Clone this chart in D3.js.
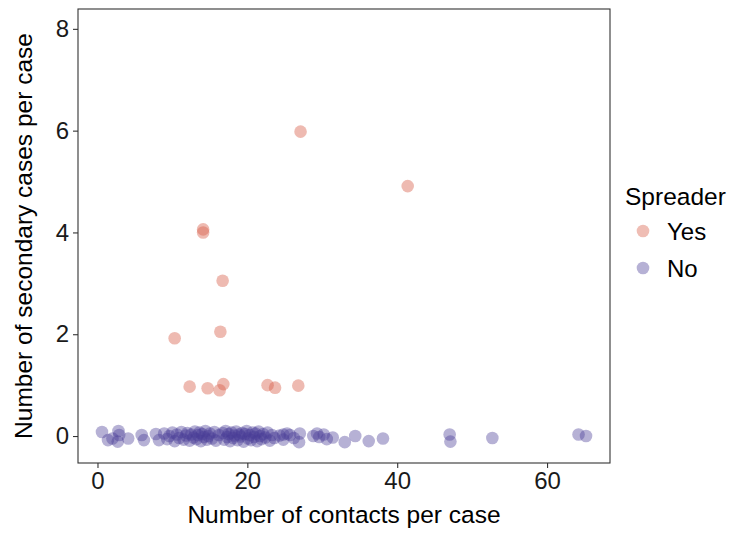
<!DOCTYPE html>
<html>
<head>
<meta charset="utf-8">
<script src="https://cdn.jsdelivr.net/npm/d3@7"></script>
<style>
  body { margin: 0; background: #fff; }
  svg { font-family: "Liberation Sans", Arial, sans-serif; }
</style>
</head>
<body>
<svg class="scatter"></svg>
<script>
// spreaders (Yes)
var yesContacts = [27.1, 41.4, 14.1, 14.1, 16.7, 16.4, 10.3, 12.3, 14.7, 16.8, 16.3, 22.7, 23.7, 26.8];
var yesSecondary = [5.98, 4.91, 4.06, 4.0, 3.05, 2.05, 1.92, 0.97, 0.94, 1.02, 0.9, 1.0, 0.95, 0.99];

// non spreaders (No), jittered round zero
var noContacts = [0.6, 1.4, 2.0, 2.7, 2.8, 2.9, 4.1, 5.9, 6.2, 7.8, 8.2,
  8.9, 9.3, 9.6, 10.0, 10.3, 10.6, 10.9, 11.2, 11.5, 11.8, 12.0, 12.3, 12.5, 12.8,
  13.0, 13.2, 13.4, 13.6, 13.8, 14.0, 14.2, 14.4, 14.6, 14.8, 15.0, 15.3, 15.6, 15.8,
  16.2, 16.7, 16.9, 17.1, 17.3, 17.5, 17.7, 17.9, 18.1, 18.3, 18.5, 18.7, 18.9, 19.1,
  19.3, 19.5, 19.7, 19.9, 20.1, 20.3, 20.5, 20.7, 20.9, 21.1, 21.3, 21.5, 21.7, 21.9,
  22.1, 22.4, 22.7, 23.0, 23.3, 23.6,
  24.3, 24.8, 24.8, 25.3, 25.7, 26.2, 27.0, 26.9, 28.8, 29.3, 29.6, 30.2, 30.6, 31.4,
  33.0, 34.4, 36.2, 38.1, 47.0, 47.1, 52.7, 64.2, 65.2];
var noSecondary = [0.08, -0.08, -0.05, -0.11, 0.10, 0.02, -0.05, 0.02, -0.08, 0.04, -0.08,
  0.05, -0.06, 0.0, 0.07, -0.10, 0.03, -0.04, 0.08, -0.07, 0.01, 0.06, -0.09, 0.03, -0.03,
  0.09, -0.06, 0.02, 0.07, -0.10, 0.04, -0.02, 0.10, -0.07, 0.0, 0.05, -0.05, 0.08, -0.09,
  0.02, 0.06, -0.07, 0.10, -0.02, 0.04, -0.10, 0.07, -0.04, 0.01, 0.09, -0.08, 0.03, -0.01,
  0.06, -0.11, 0.04, 0.10, -0.05, 0.02, -0.08, 0.07, -0.02, 0.05, -0.10, 0.09, 0.0, -0.06,
  0.04, -0.03, 0.07, -0.09, 0.02, -0.04,
  0.01, 0.03, -0.07, 0.05, 0.02, -0.04, 0.05, -0.12, 0.0, 0.05, -0.02, 0.03, -0.06, -0.03,
  -0.12, 0.0, -0.10, -0.05, 0.03, -0.11, -0.04, 0.03, 0.0];

var xTicks = [0, 20, 40, 60];
var yTicks = [0, 2, 4, 6, 8];
var groups = ["Yes", "No"];
var groupColors = ["#D65A44", "#483D96"];

var width = 732, height = 534,
    panel = {left: 78, right: 610, top: 9, bottom: 463};

var svg = d3.select(".scatter")
    .attr("width", width)
    .attr("height", height);

var x = d3.scaleLinear().domain([-2.6, 68.4]).range([panel.left, panel.right]);
var y = d3.scaleLinear().domain([-0.53, 8.39]).range([panel.bottom, panel.top]);
var colour = d3.scaleOrdinal().domain(groups).range(groupColors);

// build the point table
var points = [];
noContacts.forEach(function(d, i) { points.push({x: d, y: noSecondary[i], g: "No"}); });
yesContacts.forEach(function(d, i) { points.push({x: d, y: yesSecondary[i], g: "Yes"}); });

// panel background
svg.append("rect")
    .attr("x", panel.left).attr("y", panel.top)
    .attr("width", panel.right - panel.left)
    .attr("height", panel.bottom - panel.top)
    .attr("fill", "#fff");

// the points
svg.append("g").selectAll("circle")
    .data(points)
  .enter().append("circle")
    .attr("cx", function(d) { return x(d.x); })
    .attr("cy", function(d) { return y(d.y); })
    .attr("r", 6.3)
    .attr("fill", function(d) { return colour(d.g); })
    .attr("fill-opacity", function(d) { return d.g == "Yes" ? 0.42 : 0.4; });

// panel border
svg.append("rect")
    .attr("x", panel.left).attr("y", panel.top)
    .attr("width", panel.right - panel.left)
    .attr("height", panel.bottom - panel.top)
    .attr("fill", "none")
    .attr("stroke", "#333")
    .attr("stroke-width", 1.1);

// axes
var xAxis = svg.append("g")
    .attr("transform", "translate(0," + panel.bottom + ")")
    .call(d3.axisBottom(x).tickValues(xTicks).tickSize(5).tickPadding(4));
var yAxis = svg.append("g")
    .attr("transform", "translate(" + panel.left + ",0)")
    .call(d3.axisLeft(y).tickValues(yTicks).tickSize(5).tickPadding(4));

[xAxis, yAxis].forEach(function(a) {
  a.select(".domain").remove();
  a.selectAll(".tick line").attr("stroke", "#333").attr("stroke-width", 1.1);
  a.selectAll(".tick text")
    .attr("fill", "#1a1a1a")
    .style("font-size", "24px")
    .style("font-family", "'Liberation Sans', Arial, sans-serif");
});

// axis titles
svg.append("text")
    .attr("x", (panel.left + panel.right) / 2)
    .attr("y", 523)
    .attr("text-anchor", "middle")
    .attr("fill", "#000")
    .style("font-size", "24.5px")
    .text("Number of contacts per case");

svg.append("text")
    .attr("transform", "translate(32," + ((panel.top + panel.bottom) / 2) + ") rotate(-90)")
    .attr("text-anchor", "middle")
    .attr("fill", "#000")
    .style("font-size", "24.5px")
    .text("Number of secondary cases per case");

// legend
var legend = svg.append("g");
legend.append("text")
    .attr("x", 625).attr("y", 205)
    .attr("fill", "#000")
    .style("font-size", "24.5px")
    .text("Spreader");

var item = legend.selectAll(".item")
    .data(groups)
  .enter().append("g")
    .attr("class", "item")
    .attr("transform", function(d, i) { return "translate(0," + (231 + i * 37) + ")"; });
item.append("circle")
    .attr("cx", 643).attr("cy", 0).attr("r", 6.3)
    .attr("fill", function(d) { return colour(d); })
    .attr("fill-opacity", 0.4);
item.append("text")
    .attr("x", 667).attr("y", 8.5)
    .attr("fill", "#000")
    .style("font-size", "24px")
    .text(function(d) { return d; });
</script>
</body>
</html>
